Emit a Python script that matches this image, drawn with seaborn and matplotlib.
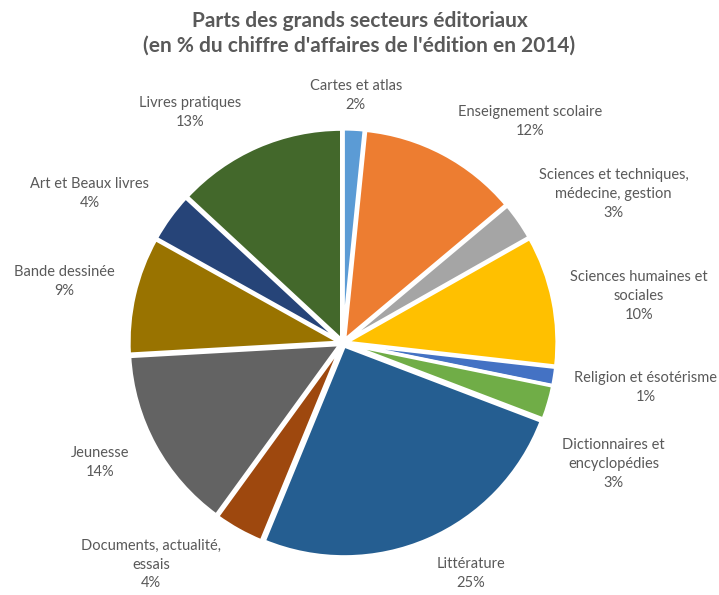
import matplotlib
matplotlib.use("Agg")
import matplotlib.pyplot as plt
import seaborn as sns

sns.set_theme(style="white")
plt.rcParams["font.family"] = ["Lato", "DejaVu Sans"]

# Sector shares of publishing turnover, 2014 (%)
secteurs = [
    "Cartes et atlas",
    "Enseignement scolaire",
    "Sciences et techniques,\nmédecine, gestion",
    "Sciences humaines et\nsociales",
    "Religion et ésotérisme",
    "Dictionnaires et\nencyclopédies",
    "Littérature",
    "Documents, actualité,\nessais",
    "Jeunesse",
    "Bande dessinée",
    "Art et Beaux livres",
    "Livres pratiques",
]
parts = [1.6, 12.3, 2.9, 10.0, 1.4, 2.6, 25.4, 3.8, 14.1, 9.0, 3.8, 13.1]

couleurs = [
    "#5B9BD5", "#ED7D31", "#A5A5A5", "#FFC000", "#4472C4", "#70AD47",
    "#255E91", "#9E480E", "#636363", "#997300", "#264478", "#43682B",
]

# Label anchors, in pie-radius units around the centre
label_pos = [
    (0.06, 1.16), (0.88, 1.04), (1.27, 0.70), (1.39, 0.22),
    (1.42, -0.21), (1.27, -0.57), (0.60, -1.08), (-0.90, -1.04),
    (-1.14, -0.56), (-1.31, 0.29), (-1.19, 0.70), (-0.72, 1.08),
]

W, H, DPI = 719, 595, 100
cx, cy, R = 343, 343, 211

fig = plt.figure(figsize=(W / DPI, H / DPI), dpi=DPI)
ax = fig.add_axes([0, 0, 1, 1])

ax.pie(
    parts,
    colors=couleurs,
    startangle=90,
    counterclock=False,
    explode=[0.015] * len(parts),
    wedgeprops=dict(edgecolor="white", linewidth=2.5),
)
ax.set_xlim(-cx / R, (W - cx) / R)
ax.set_ylim(-(H - cy) / R, cy / R)
ax.set_aspect("auto")
ax.axis("off")

txt = "#595959"
for nom, val, (x, y) in zip(secteurs, parts, label_pos):
    ax.text(x * 213 / R, y * 213 / R, f"{nom}\n{val:.0f}%", ha="center",
            va="center", fontsize=10.5, color=txt, linespacing=1.45)

fig.text(0.5, 1 - 33 / H,
         "Parts des grands secteurs éditoriaux\n(en % du chiffre d'affaires de l'édition en 2014)",
         ha="center", va="center", fontsize=15, fontweight="bold",
         color=txt, linespacing=1.3)

fig.savefig("out.png", dpi=DPI, facecolor="white")
